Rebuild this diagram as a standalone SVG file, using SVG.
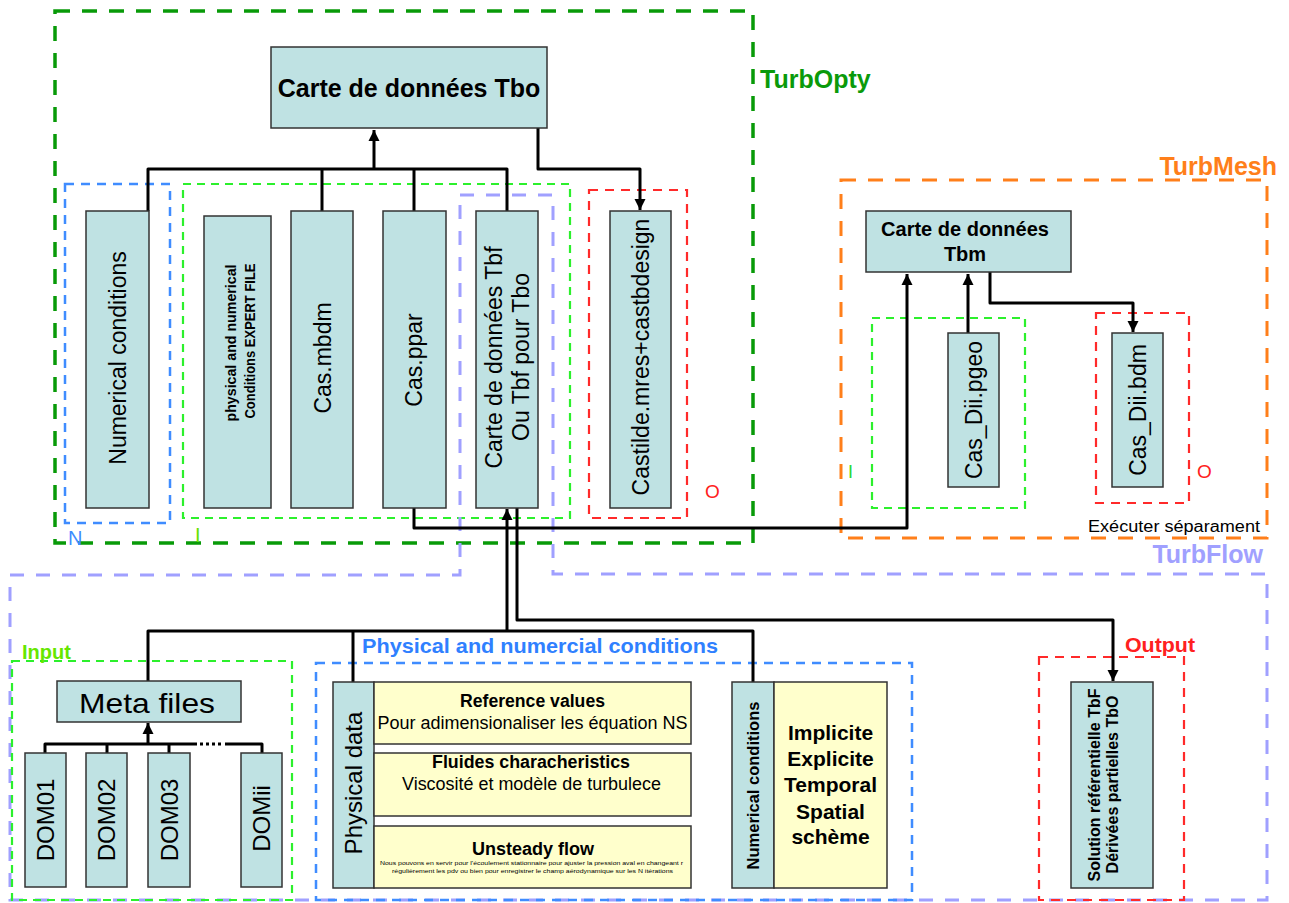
<svg xmlns="http://www.w3.org/2000/svg" width="1289" height="903" viewBox="0 0 1289 903">
<defs>
<marker id="arr" markerUnits="userSpaceOnUse" markerWidth="12" markerHeight="12" viewBox="0 0 12 12" refX="11" refY="6" orient="auto">
<path d="M0,0.5 L11,6 L0,11.5 Z" fill="#000"/>
</marker>
<style>
text{font-family:"Liberation Sans",Arial,sans-serif;fill:#000}
.box{fill:#BFE2E3;stroke:#333;stroke-width:1.5}
.ybox{fill:#FFFFCC;stroke:#333;stroke-width:1.5}
.conn{fill:none;stroke:#000;stroke-width:3;stroke-linejoin:round}
.g-dk{fill:none;stroke:#089A08;stroke-width:3.5;stroke-dasharray:15 12}
.g-lt{fill:none;stroke:#2CF02C;stroke-width:2.2;stroke-dasharray:8 6}
.b-d{fill:none;stroke:#3F8CFF;stroke-width:2.5;stroke-dasharray:9 7}
.r-d{fill:none;stroke:#FF2A2A;stroke-width:2.2;stroke-dasharray:9 7}
.l-d{fill:none;stroke:#A0A0FF;stroke-width:3;stroke-dasharray:14 12}
.o-d{fill:none;stroke:#FF7F1A;stroke-width:3;stroke-dasharray:15 12}
.v23{font-size:23px;text-anchor:middle}
.b{font-weight:bold}
.mid{text-anchor:middle}
</style>
</defs>
<rect width="1289" height="903" fill="#fff"/>

<g id="containers">
<rect class="g-dk" x="55" y="11" width="698" height="532"/>
<rect class="b-d" x="65" y="184" width="105" height="339"/>
<rect class="g-lt" x="183" y="184" width="387" height="334"/>
<path class="l-d" d="M460,195 H553 V574 H1267 V900 H10 V575 H460 Z"/>
<rect class="r-d" x="589" y="190" width="98" height="328"/>
<rect class="o-d" x="841" y="180" width="426" height="358"/>
<rect class="g-lt" x="872" y="318" width="153" height="190"/>
<rect class="r-d" x="1096" y="313" width="93" height="190"/>
<rect class="g-lt" x="12" y="661" width="280" height="239"/>
<rect class="b-d" x="316" y="663" width="596" height="237"/>
<rect class="r-d" x="1039" y="657" width="145" height="243"/>
</g>

<g id="labels">
<text x="760" y="88" class="b" font-size="25" style="fill:#0A9A0A">TurbOpty</text>
<text x="1277" y="175" class="b" font-size="25" text-anchor="end" style="fill:#FF7F1A">TurbMesh</text>
<text x="1263" y="563" class="b" font-size="25" text-anchor="end" style="fill:#A0A0FF">TurbFlow</text>
<text x="68" y="545" font-size="20" style="fill:#3F8CFF">N</text>
<text x="195" y="542" font-size="20" style="fill:#66E000">I</text>
<text x="705" y="498" font-size="19" style="fill:#FF2020">O</text>
<text x="848" y="478" font-size="18" style="fill:#2CD82C">I</text>
<text x="1197" y="478" font-size="19" style="fill:#FF2020">O</text>
<text x="1088" y="532" font-size="16" textLength="172" lengthAdjust="spacingAndGlyphs">Exécuter séparament</text>
<text x="22" y="659" class="b" font-size="20" style="fill:#66E600">Input</text>
<text x="362" y="653" class="b" font-size="21" textLength="356" lengthAdjust="spacingAndGlyphs" style="fill:#2F80FF">Physical and numercial conditions</text>
<text x="1125" y="652" class="b" font-size="20" textLength="70" lengthAdjust="spacingAndGlyphs" style="fill:#FF2020">Output</text>
</g>

<g id="connectors">
<path class="conn" d="M374,169 V130" marker-end="url(#arr)"/>
<path class="conn" d="M148,211 V169 H507 V211"/>
<path class="conn" d="M322,169 V211"/>
<path class="conn" d="M414,169 V211"/>
<path class="conn" d="M538,128 V169 H640 V210" marker-end="url(#arr)"/>
<path class="conn" d="M414,508 V528 H907 V274" marker-end="url(#arr)"/>
<path class="conn" d="M968,333 V274" marker-end="url(#arr)"/>
<path class="conn" d="M990,272 V303 H1133 V332" marker-end="url(#arr)"/>
<path class="conn" d="M148,681 V631 H753 V682"/>
<path class="conn" d="M353,631 V682"/>
<path class="conn" d="M507,631 V509" marker-end="url(#arr)"/>
<path class="conn" d="M517,508 V620 H1113 V681" marker-end="url(#arr)"/>
<path class="conn" d="M45,753 V744 H197"/>
<path class="conn" d="M225,744 H262 V753"/>
<path class="conn" d="M200,744 H224" style="stroke-dasharray:3 3"/>
<path class="conn" d="M107,744 V753"/>
<path class="conn" d="M169,744 V753"/>
<path class="conn" d="M148,744 V723" marker-end="url(#arr)"/>
</g>

<g id="n-tbo">
<rect class="box" x="271" y="47" width="276" height="81"/>
<text x="409" y="97" class="b mid" font-size="25">Carte de données Tbo</text>
</g>
<g id="n-numcond">
<rect class="box" x="86" y="211" width="63" height="297"/>
<text class="v23" transform="translate(125.7,358) rotate(-90)">Numerical conditions</text>
</g>
<g id="n-expert">
<rect class="box" x="204" y="216" width="67" height="292"/>
<text class="b mid" font-size="14" transform="translate(236,343) rotate(-90)" textLength="157" lengthAdjust="spacingAndGlyphs">physical and numerical</text>
<text class="b mid" font-size="14" transform="translate(255,341) rotate(-90)" textLength="155" lengthAdjust="spacingAndGlyphs">Conditions EXPERT FILE</text>
</g>
<g id="n-mbdm">
<rect class="box" x="291" y="211" width="62" height="297"/>
<text class="v23" transform="translate(330.5,358) rotate(-90)">Cas.mbdm</text>
</g>
<g id="n-ppar">
<rect class="box" x="383" y="211" width="63" height="297"/>
<text class="v23" transform="translate(422,360) rotate(-90)">Cas.ppar</text>
</g>
<g id="n-tbf">
<rect class="box" x="476" y="211" width="62" height="297"/>
<text class="v23" transform="translate(502,357.5) rotate(-90)">Carte de données Tbf</text>
<text class="v23" transform="translate(529,357) rotate(-90)">Ou Tbf pour Tbo</text>
</g>
<g id="n-castilde">
<rect class="box" x="610" y="211" width="61" height="297"/>
<text class="v23" transform="translate(648.7,357) rotate(-90)">Castilde.mres+castbdesign</text>
</g>
<g id="n-tbm">
<rect class="box" x="866" y="211" width="205" height="61"/>
<text x="965" y="236" class="b mid" font-size="20">Carte de données</text>
<text x="965" y="261" class="b mid" font-size="20">Tbm</text>
</g>
<g id="n-pgeo">
<rect class="box" x="948" y="333" width="51" height="154"/>
<text class="v23" transform="translate(981.7,410) rotate(-90)">Cas_Dii.pgeo</text>
</g>
<g id="n-bdm">
<rect class="box" x="1112" y="333" width="51" height="154"/>
<text class="v23" transform="translate(1146,410) rotate(-90)">Cas_Dii.bdm</text>
</g>
<g id="n-meta">
<rect class="box" x="57" y="681" width="184" height="41"/>
<text x="147" y="713" class="mid" font-size="28" textLength="136" lengthAdjust="spacingAndGlyphs">Meta files</text>
</g>
<g id="n-dom01">
<rect class="box" x="25" y="753" width="41" height="134"/>
<text class="mid" font-size="24" transform="translate(54,820) rotate(-90)">DOM01</text>
</g>
<g id="n-dom02">
<rect class="box" x="86" y="753" width="41" height="134"/>
<text class="mid" font-size="24" transform="translate(115,820) rotate(-90)">DOM02</text>
</g>
<g id="n-dom03">
<rect class="box" x="148" y="753" width="42" height="134"/>
<text class="mid" font-size="24" transform="translate(177.5,820) rotate(-90)">DOM03</text>
</g>
<g id="n-domii">
<rect class="box" x="241" y="753" width="41" height="134"/>
<text class="mid" font-size="24" transform="translate(270,818.5) rotate(-90)">DOMii</text>
</g>
<g id="n-physdata">
<rect class="box" x="333" y="682" width="41" height="206"/>
<text class="mid" font-size="24" transform="translate(362,783) rotate(-90)">Physical data</text>
</g>
<g id="n-refvalues">
<rect class="ybox" x="374" y="682" width="317" height="62"/>
<text x="532.5" y="707" class="b mid" font-size="17.5" textLength="145" lengthAdjust="spacingAndGlyphs">Reference values</text>
<text x="532.5" y="729" class="mid" font-size="17.5" textLength="310" lengthAdjust="spacingAndGlyphs">Pour adimensionaliser les équation NS</text>
</g>
<g id="n-fluides">
<rect class="ybox" x="374" y="753" width="317" height="63"/>
<text x="531" y="768" class="b mid" font-size="17.5" textLength="198" lengthAdjust="spacingAndGlyphs">Fluides characheristics</text>
<text x="531.5" y="790" class="mid" font-size="17.5" textLength="259" lengthAdjust="spacingAndGlyphs">Viscosité et modèle de turbulece</text>
</g>
<g id="n-unsteady">
<rect class="ybox" x="374" y="826" width="317" height="62"/>
<text x="533" y="855" class="b mid" font-size="18" textLength="122" lengthAdjust="spacingAndGlyphs">Unsteady flow</text>
<text x="531.5" y="865" class="mid" font-size="5.5" textLength="303" lengthAdjust="spacingAndGlyphs">Nous pouvons en servir pour l'écoulement stationnaire pour ajuster la pression aval en changeant r</text>
<text x="532.5" y="873" class="mid" font-size="5.5" textLength="281" lengthAdjust="spacingAndGlyphs">régulièrement les pdv ou bien pour enregistrer le champ aérodynamique sur les N itérations</text>
</g>
<g id="n-numcond2">
<rect class="box" x="732" y="682" width="42" height="206"/>
<text class="b mid" font-size="16.5" transform="translate(759,785.5) rotate(-90)">Numerical conditions</text>
</g>
<g id="n-schemes">
<rect class="ybox" x="774" y="682" width="113" height="206"/>
<text x="830.5" y="740" class="b mid" font-size="21">Implicite</text>
<text x="830.5" y="766" class="b mid" font-size="21">Explicite</text>
<text x="830.5" y="792" class="b mid" font-size="21">Temporal</text>
<text x="830.5" y="819" class="b mid" font-size="21">Spatial</text>
<text x="830.5" y="844" class="b mid" font-size="21">schème</text>
</g>
<g id="n-solution">
<rect class="box" x="1071" y="682" width="82" height="206"/>
<text class="b mid" font-size="16" transform="translate(1100,785) rotate(-90)">Solution référentielle TbF</text>
<text class="b mid" font-size="16" transform="translate(1118,784.5) rotate(-90)">Dérivées partielles TbO</text>
</g>
</svg>
